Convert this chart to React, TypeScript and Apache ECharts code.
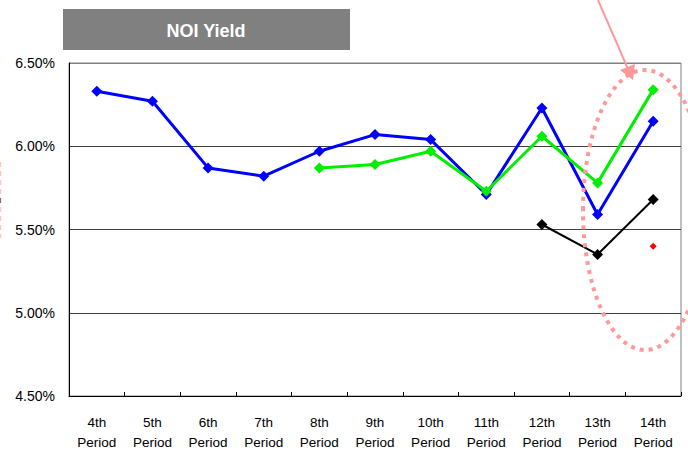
import React, { useEffect, useRef } from "react";
import * as echarts from "echarts";

// Fiscal periods on the horizontal axis
const periods = ["4th", "5th", "6th", "7th", "8th", "9th", "10th", "11th", "12th", "13th", "14th"];

// NOI yield (%) per period for each series; null where a series has no value
const blueSeries = [6.33, 6.27, 5.87, 5.82, 5.97, 6.07, 6.04, 5.71, 6.23, 5.59, 6.15];
const greenSeries = [null, null, null, null, 5.87, 5.89, 5.97, 5.73, 6.06, 5.78, 6.34];
const blackSeries = [null, null, null, null, null, null, null, null, 5.53, 5.35, 5.68];
const redSeries = [null, null, null, null, null, null, null, null, null, null, 5.40];

// Y axis range and step (%)
const yMin = 4.5;
const yMax = 6.5;
const yStep = 0.5;

const FONT = "'Liberation Sans', Arial, sans-serif";

export default function App() {
  const ref = useRef<HTMLDivElement>(null);

  useEffect(() => {
    if (!ref.current) return;
    const chart = echarts.init(ref.current, undefined, { renderer: "svg" });

    const lineSeries = (name: string, data: (number | null)[], color: string, width: number, size: number) => ({
      name,
      type: "line",
      data,
      symbol: "diamond",
      symbolSize: size,
      showSymbol: true,
      connectNulls: false,
      lineStyle: { color, width },
      itemStyle: { color },
      z: 3,
    });

    chart.setOption({
      animation: false,
      backgroundColor: "#ffffff",
      textStyle: { fontFamily: FONT },
      grid: {
        left: 69,
        right: 7,
        top: 63,
        bottom: 54,
        show: true,
        borderColor: "#808080",
        borderWidth: 1,
        backgroundColor: "transparent",
      },
      xAxis: {
        type: "category",
        data: periods,
        boundaryGap: true,
        axisLine: { lineStyle: { color: "#000000", width: 1 } },
        axisTick: { show: true, inside: true, length: 4, lineStyle: { color: "#000000" } },
        axisLabel: {
          formatter: (v: string) => `${v}\nPeriod`,
          color: "#000000",
          fontSize: 13.5,
          fontFamily: FONT,
          lineHeight: 20,
          margin: 16,
          interval: 0,
        },
        splitLine: { show: false },
      },
      yAxis: {
        type: "value",
        min: yMin,
        max: yMax,
        interval: yStep,
        axisLine: { show: true, lineStyle: { color: "#000000", width: 1 } },
        axisTick: { show: false },
        axisLabel: {
          formatter: (v: number) => `${v.toFixed(2)}%`,
          color: "#000000",
          fontSize: 14,
          fontFamily: FONT,
          margin: 14,
        },
        splitLine: {
          show: true,
          lineStyle: { color: ["#000000", "#404040", "#404040", "#404040", "#808080"], width: 1 },
        },
      },
      series: [
        lineSeries("blue", blueSeries, "#0000ff", 3, 11),
        lineSeries("green", greenSeries, "#00ee00", 3, 11),
        lineSeries("black", blackSeries, "#000000", 2, 11),
        lineSeries("red", redSeries, "#ff0000", 2, 7),
      ],
      graphic: [
        // Title banner
        {
          type: "rect",
          shape: { x: 63, y: 9, width: 287, height: 41 },
          style: { fill: "#808080" },
          z: 10,
        },
        {
          type: "text",
          x: 206,
          y: 31,
          style: {
            text: "NOI Yield",
            fill: "#ffffff",
            font: `bold 18px ${FONT}`,
            align: "center",
            verticalAlign: "middle",
          },
          z: 11,
        },
        // Dotted highlight around the latest periods
        {
          type: "ellipse",
          shape: { cx: 645, cy: 210, rx: 62, ry: 140 },
          style: { fill: "none", stroke: "#ff9999", lineWidth: 4, lineDash: [4, 5] },
          z: 20,
        },
        // Pointer arrow
        {
          type: "line",
          shape: { x1: 598, y1: 0, x2: 628, y2: 69 },
          style: { stroke: "#ff9999", lineWidth: 2 },
          z: 20,
        },
        {
          type: "polygon",
          shape: { points: [[633, 80], [635, 64], [620, 70]] },
          style: { fill: "#ff9999" },
          z: 20,
        },
        // Faint marks at the left edge
        {
          type: "line",
          shape: { x1: 0.5, y1: 162, x2: 0.5, y2: 238 },
          style: { stroke: "#ffc4c4", lineWidth: 1.5, lineDash: [5, 4] },
          z: 20,
        },
        {
          type: "line",
          shape: { x1: 0, y1: 198, x2: 0, y2: 203 },
          style: { stroke: "#555555", lineWidth: 1.5 },
          z: 21,
        },
      ],
    });

    return () => chart.dispose();
  }, []);

  return (
    <div
      ref={ref}
      style={{ position: "absolute", left: 0, top: 0, width: 688, height: 452, background: "#fff" }}
    />
  );
}
